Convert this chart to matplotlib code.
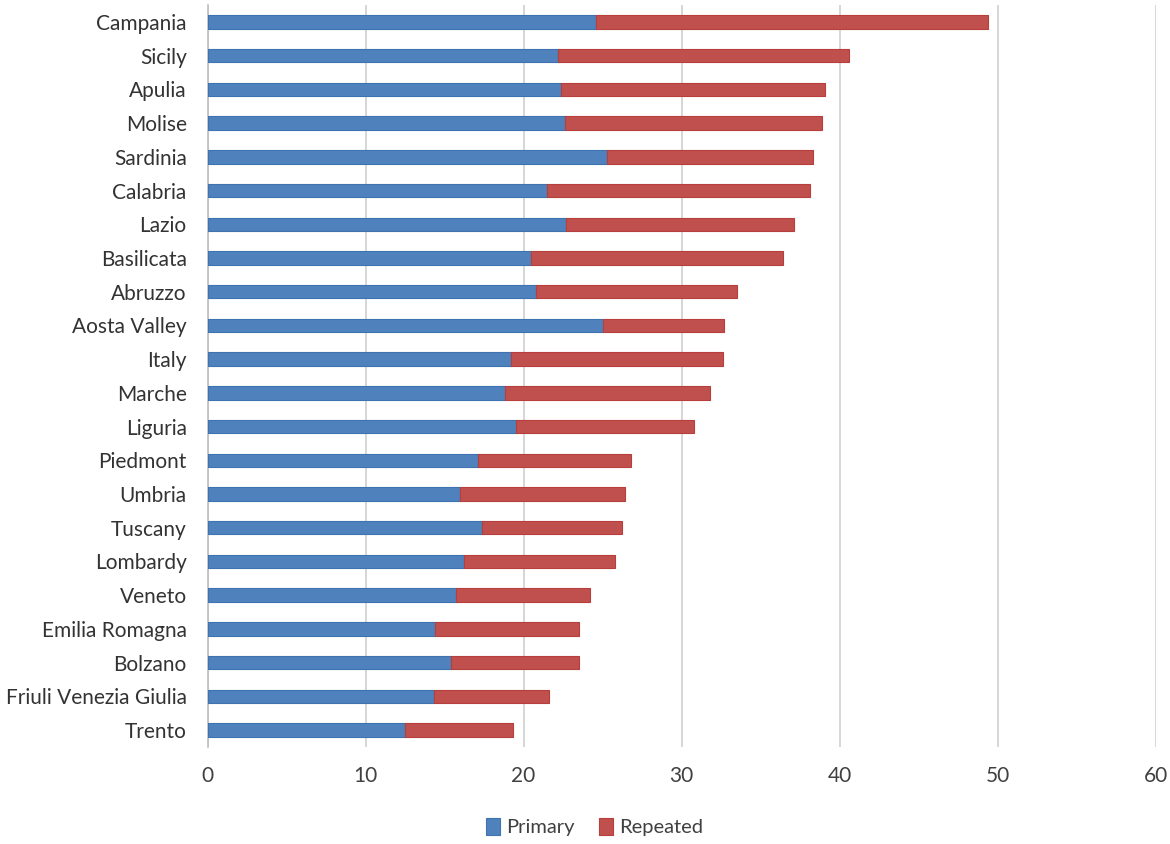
import numpy as np
import matplotlib
matplotlib.use("Agg")
import matplotlib.pyplot as plt

plt.rcParams['font.family'] = ['Lato', 'DejaVu Sans']

# data (top to bottom)
regions = ["Campania", "Sicily", "Apulia", "Molise", "Sardinia", "Calabria",
           "Lazio", "Basilicata", "Abruzzo", "Aosta Valley", "Italy", "Marche",
           "Liguria", "Piedmont", "Umbria", "Tuscany", "Lombardy", "Veneto",
           "Emilia Romagna", "Bolzano", "Friuli Venezia Giulia", "Trento"]
primary = [24.6, 22.2, 22.4, 22.6, 25.3, 21.5,
           22.7, 20.5, 20.8, 25.0, 19.2, 18.8,
           19.5, 17.1, 16.0, 17.4, 16.2, 15.7,
           14.4, 15.4, 14.3, 12.5]
total = [49.4, 40.6, 39.1, 38.9, 38.3, 38.1,
         37.1, 36.4, 33.5, 32.7, 32.6, 31.8,
         30.8, 26.8, 26.4, 26.2, 25.8, 24.2,
         23.5, 23.5, 21.6, 19.3]
repeated = [t - p for t, p in zip(total, primary)]
xticks = [0, 10, 20, 30, 40, 50, 60]

blue = "#4F81BD"
red = "#C0504D"

fig = plt.figure(figsize=(11.7, 8.44), dpi=100)
ax = fig.add_axes([0.1774, 0.115, 0.8103, 0.879])

y = np.arange(len(regions))
ax.barh(y, primary, height=0.4, color=blue, edgecolor="#3F72B0", linewidth=0.8,
        label="Primary", zorder=3)
ax.barh(y, repeated, left=primary, height=0.4, color=red, edgecolor="#B83E3B",
        linewidth=0.8, label="Repeated", zorder=3)

ax.set_ylim(len(regions) - 0.5, -0.5)
ax.set_xlim(0, 60)
ax.set_yticks(y)
ax.set_yticklabels(regions, fontsize=15, color="#333333")
ax.set_xticks(xticks)
ax.set_xticklabels([str(v) for v in xticks], fontsize=15, color="#404040")

ax.grid(axis="x", color="#D0D0D0", linewidth=1.2, zorder=0)
for s in ["top", "right", "bottom"]:
    ax.spines[s].set_visible(False)
ax.spines["left"].set_color("#BFBFBF")
ax.spines["left"].set_linewidth(1.2)
ax.tick_params(axis="y", length=0, pad=15)
ax.tick_params(axis="x", length=0, pad=14)

fig.legend(loc="center", bbox_to_anchor=(0.508, 0.02), ncol=2, frameon=False,
           fontsize=14.5, handlelength=0.7, handleheight=0.9, handletextpad=0.3,
           columnspacing=1.2, labelcolor="#404040")

fig.savefig("out.png", dpi=100)
